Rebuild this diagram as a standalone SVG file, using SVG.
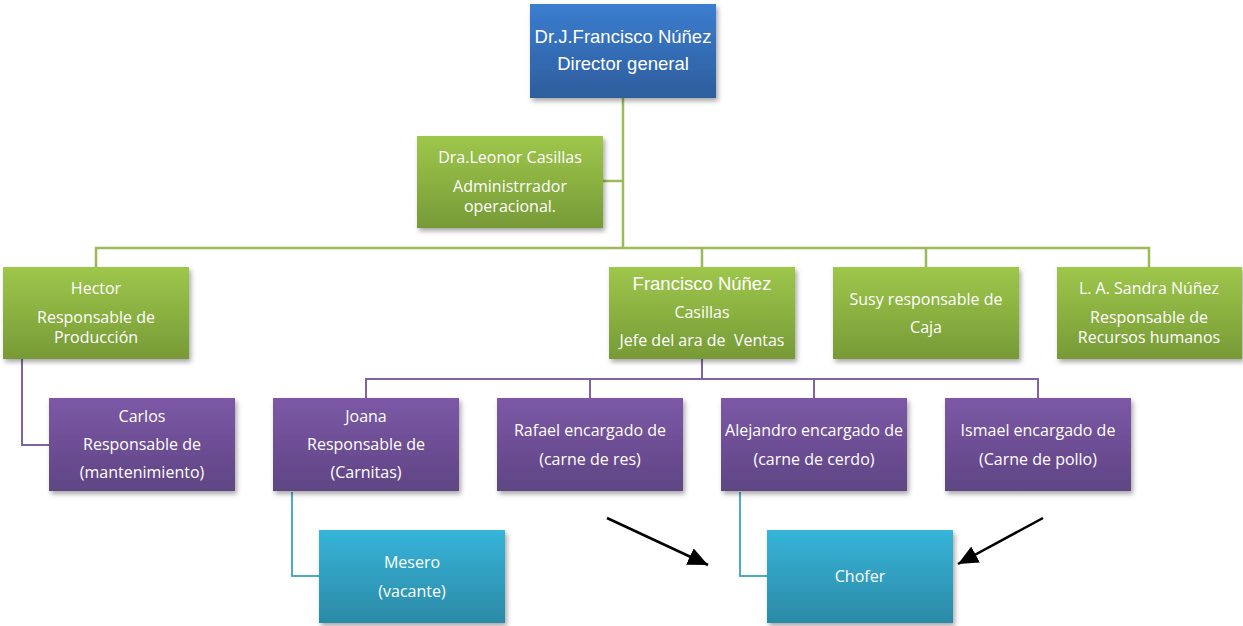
<svg xmlns="http://www.w3.org/2000/svg" width="1243" height="626" viewBox="0 0 1243 626">
<defs>
<linearGradient id="gBlue" x1="0" y1="0" x2="0" y2="1"><stop offset="0" stop-color="#3b7dd0"/><stop offset="1" stop-color="#2d5d9c"/></linearGradient>
<linearGradient id="gGreen" x1="0" y1="0" x2="0" y2="1"><stop offset="0" stop-color="#9ec74b"/><stop offset="1" stop-color="#779a37"/></linearGradient>
<linearGradient id="gPurple" x1="0" y1="0" x2="0" y2="1"><stop offset="0" stop-color="#7c58a6"/><stop offset="1" stop-color="#5f4584"/></linearGradient>
<linearGradient id="gTeal" x1="0" y1="0" x2="0" y2="1"><stop offset="0" stop-color="#37b4da"/><stop offset="1" stop-color="#2b8aa6"/></linearGradient>
<filter id="sh" x="-10%" y="-10%" width="125%" height="130%"><feDropShadow dx="2" dy="3" stdDeviation="2.5" flood-color="#000" flood-opacity="0.35"/></filter>
<marker id="ah" markerUnits="userSpaceOnUse" markerWidth="22" markerHeight="20" refX="20" refY="9" orient="auto"><path d="M0,0 L20,9 L0,18 Z" fill="#000"/></marker>
</defs>
<style>
.box{filter:url(#sh);}
.t{fill:#ffffff;text-anchor:middle;font-family:"Open Sans",Lato,sans-serif;font-size:16px;}
.ta{fill:#ffffff;text-anchor:middle;font-family:"Liberation Sans",Arial,sans-serif;}
.cg{stroke:#9bbb59;stroke-width:2.5;fill:none;}
.cp{stroke:#8064a2;stroke-width:2;fill:none;}
.ct{stroke:#4bacc6;stroke-width:2;fill:none;}
.arr{stroke:#000;stroke-width:2.5;fill:none;marker-end:url(#ah);}
</style>
<g id="connectors">
<path class="cg" d="M623,98 V248"/>
<path class="cg" d="M603,181 H623"/>
<path class="cg" d="M96,267 V248 H1149 V267"/>
<path class="cg" d="M702,248 V267"/>
<path class="cg" d="M926,248 V267"/>
<path class="cp" d="M22,359 V445 H49"/>
<path class="cp" d="M702,359 V379"/>
<path class="cp" d="M366,398 V379 H1038 V398"/>
<path class="cp" d="M590,379 V398"/>
<path class="cp" d="M814,379 V398"/>
<path class="ct" d="M292,492 V576 H319"/>
<path class="ct" d="M740,492 V576 H767"/>
<path class="arr" d="M607,518 L708,565"/>
<path class="arr" d="M1043,518 L958,564"/>
</g>
<g id="director"><rect class="box" x="530" y="4" width="186" height="94" fill="url(#gBlue)"/>
<text class="ta" x="623" y="43" font-size="18.5">Dr.J.Francisco Núñez</text>
<text class="ta" x="623" y="70" font-size="18.5">Director general</text></g>
<g id="admin"><rect class="box" x="417" y="136" width="186" height="92" fill="url(#gGreen)"/>
<text class="t" x="510" y="163">Dra.Leonor Casillas</text>
<text class="t" x="510" y="192">Administrrador</text>
<text class="t" x="510" y="212">operacional.</text></g>
<g id="hector"><rect class="box" x="3" y="267" width="186" height="92" fill="url(#gGreen)"/>
<text class="t" x="96" y="294">Hector</text>
<text class="t" x="96" y="323">Responsable de</text>
<text class="t" x="96" y="343">Producción</text></g>
<g id="francisco"><rect class="box" x="609" y="267" width="186" height="92" fill="url(#gGreen)"/>
<text class="ta" x="702" y="290" font-size="18.5">Francisco Núñez</text>
<text class="t" x="702" y="318">Casillas</text>
<text class="t" x="702" y="346" xml:space="preserve">Jefe del ara de  Ventas</text></g>
<g id="susy"><rect class="box" x="833" y="267" width="186" height="92" fill="url(#gGreen)"/>
<text class="t" x="926" y="305">Susy responsable de</text>
<text class="t" x="926" y="333">Caja</text></g>
<g id="sandra"><rect class="box" x="1057" y="267" width="185" height="92" fill="url(#gGreen)"/>
<text class="t" x="1149" y="294">L. A. Sandra Núñez</text>
<text class="t" x="1149" y="323">Responsable de</text>
<text class="t" x="1149" y="343">Recursos humanos</text></g>
<g id="carlos"><rect class="box" x="49" y="398" width="186" height="93" fill="url(#gPurple)"/>
<text class="t" x="142" y="422">Carlos</text>
<text class="t" x="142" y="450">Responsable de</text>
<text class="t" x="142" y="478">(mantenimiento)</text></g>
<g id="joana"><rect class="box" x="273" y="398" width="186" height="93" fill="url(#gPurple)"/>
<text class="t" x="366" y="422">Joana</text>
<text class="t" x="366" y="450">Responsable de</text>
<text class="t" x="366" y="478">(Carnitas)</text></g>
<g id="rafael"><rect class="box" x="497" y="398" width="186" height="93" fill="url(#gPurple)"/>
<text class="t" x="590" y="436">Rafael encargado de</text>
<text class="t" x="590" y="465">(carne de res)</text></g>
<g id="alejandro"><rect class="box" x="721" y="398" width="186" height="93" fill="url(#gPurple)"/>
<text class="t" x="814" y="436">Alejandro encargado de</text>
<text class="t" x="814" y="465">(carne de cerdo)</text></g>
<g id="ismael"><rect class="box" x="945" y="398" width="186" height="93" fill="url(#gPurple)"/>
<text class="t" x="1038" y="436">Ismael encargado de</text>
<text class="t" x="1038" y="465">(Carne de pollo)</text></g>
<g id="mesero"><rect class="box" x="319" y="530" width="186" height="93" fill="url(#gTeal)"/>
<text class="t" x="412" y="568">Mesero</text>
<text class="t" x="412" y="597">(vacante)</text></g>
<g id="chofer"><rect class="box" x="767" y="530" width="186" height="93" fill="url(#gTeal)"/>
<text class="t" x="860" y="582">Chofer</text></g>
</svg>
